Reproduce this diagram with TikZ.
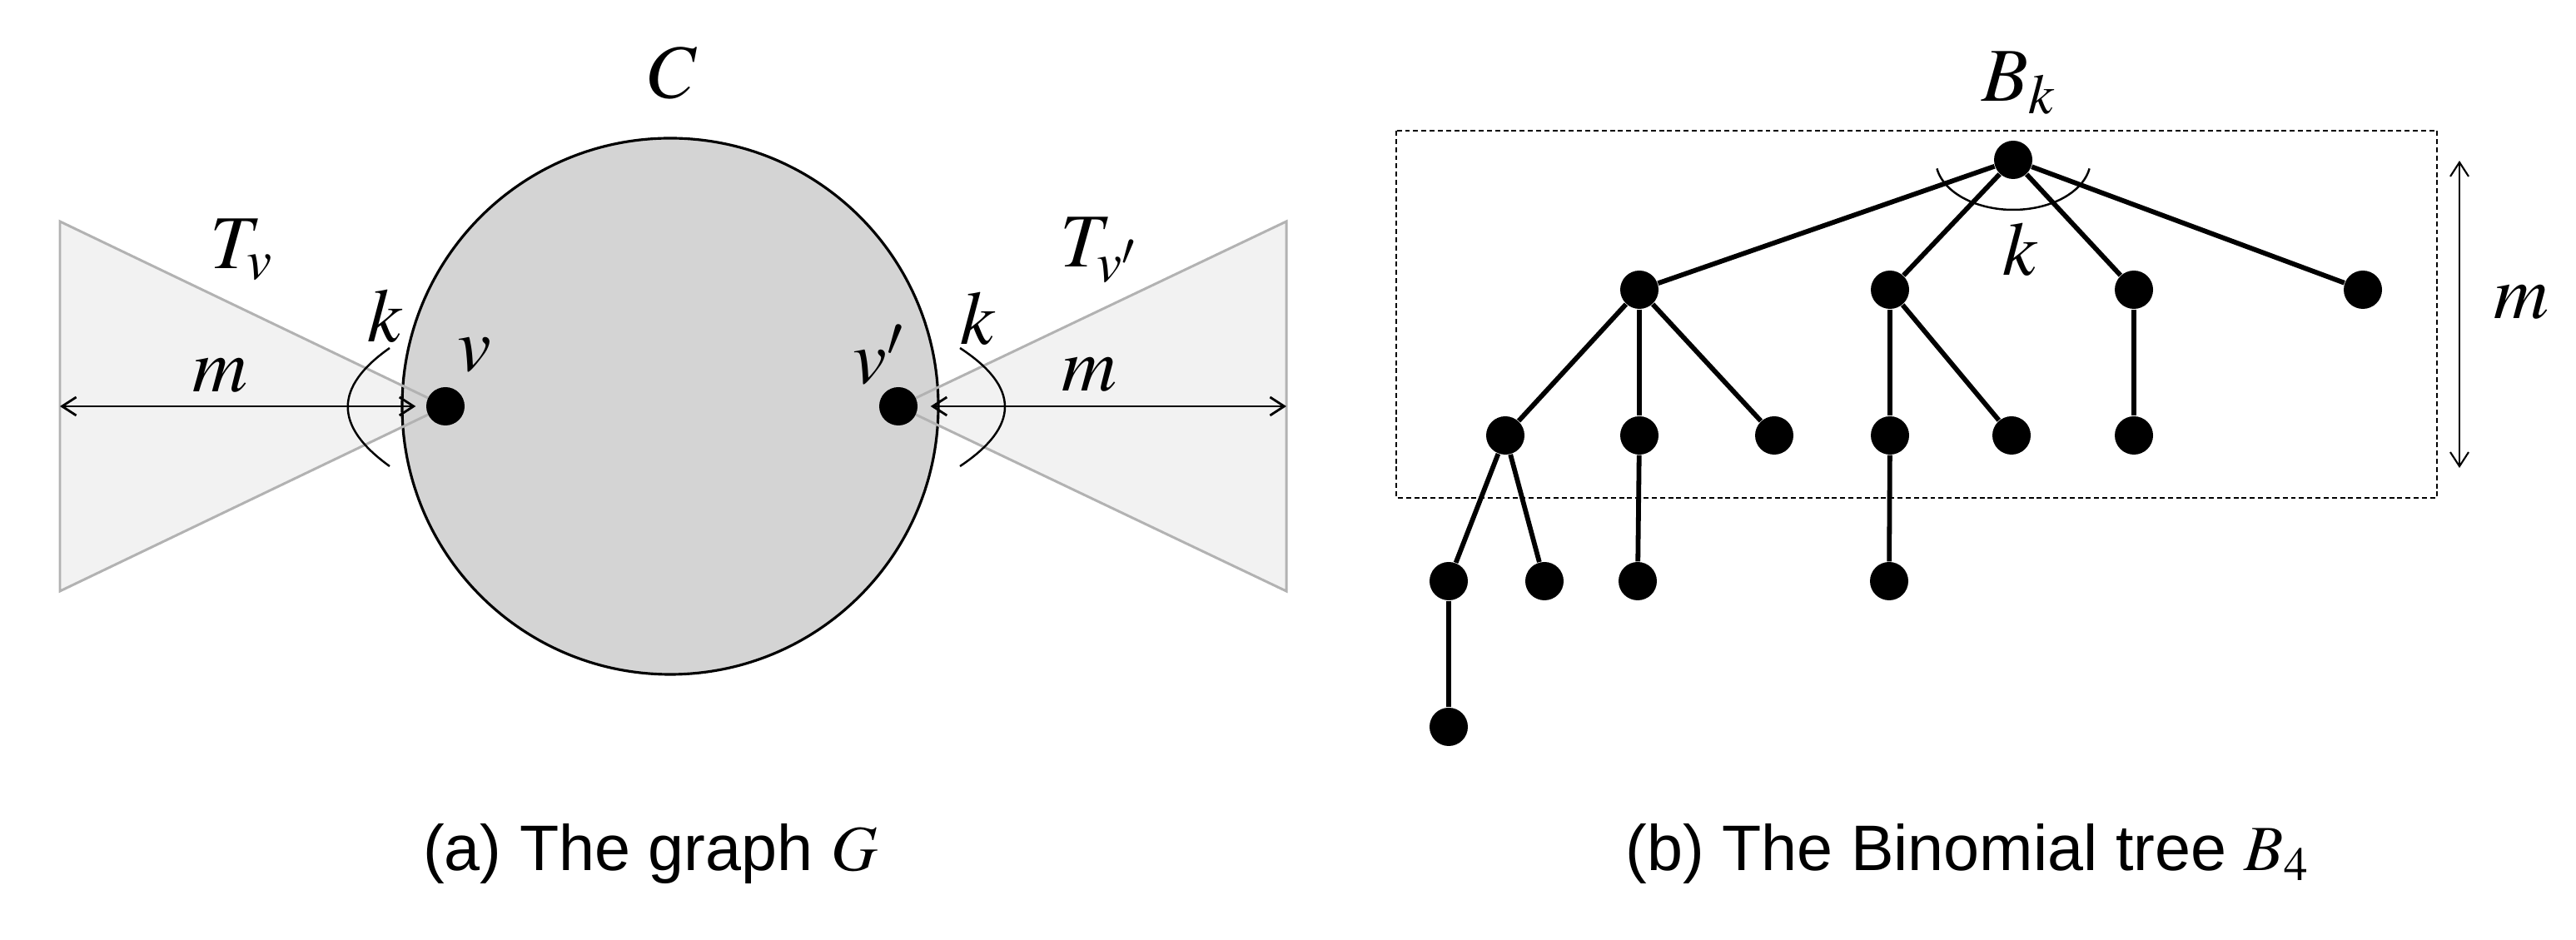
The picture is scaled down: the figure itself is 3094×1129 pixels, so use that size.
\documentclass[tikz,border=0pt]{standalone}
\usepackage{mathptmx}
\usepackage[no-math]{fontspec}
\setmainfont{Liberation Sans}
\usetikzlibrary{arrows.meta,backgrounds}

\definecolor{circlegray}{gray}{0.83}
\definecolor{conefill}{gray}{0.95}
\definecolor{coneline}{gray}{0.70}

\tikzset{
  vertex/.style={circle, fill=black, inner sep=0pt, minimum size=4.6mm},
  treeedge/.style={line width=1.65pt},
  thinarc/.style={line width=0.7pt},
  dimarrow/.style={<->, >={Straight Barb[length=1.7mm,width=2.2mm]}, line width=0.8pt},
  lbl/.style={inner sep=0pt, font=\fontsize{26}{30}\selectfont},
  caption/.style={inner sep=0pt, anchor=base, font=\fontsize{22}{26}\selectfont}
}

\begin{document}
\begin{tikzpicture}[x=0.1mm, y=-0.1mm]
  \useasboundingbox (0,0) rectangle (3094,1129);

  % (a) the graph G
  \coordinate (O) at (805,488);
  \coordinate (TL1) at (72,266);
  \coordinate (TL2) at (72,710);
  \coordinate (TR1) at (1545,266);
  \coordinate (TR2) at (1545,710);
  \coordinate (mL) at (72,488);
  \coordinate (mR) at (1545,488);
  \node[vertex] (v) at (535,488) {};
  \node[vertex] (vp) at (1079,488) {};

  \begin{scope}[on background layer]
    \fill[conefill] (TL1) -- (v.center) -- (TL2) -- cycle;
    \fill[conefill] (TR1) -- (vp.center) -- (TR2) -- cycle;
    \draw[fill=circlegray, line width=0.9pt] (O) circle[radius=322];
    \draw[coneline, line width=0.85pt] (TL1) -- (v.center) -- (TL2) -- cycle;
    \draw[coneline, line width=0.85pt] (TR1) -- (vp.center) -- (TR2) -- cycle;
  \end{scope}

  \draw[dimarrow, shorten >=1.2mm] (mL) -- (v);
  \draw[dimarrow, shorten <=1.5mm] (vp) -- (mR);
  \draw[thinarc] (468,418) .. controls (401,465) and (401,512) .. (468,560);
  \draw[thinarc] (1153,418) .. controls (1225,465) and (1225,512) .. (1153,560);

  \node[lbl] (Clbl) at (808,88) {$C$};
  \node[lbl] (Tv) at (290,300) {$T_v$};
  \node[lbl] (Tvp) at (1320,300) {$T_{v'}$};
  \node[lbl] (mleft) at (264,451) {$m$};
  \node[lbl] (mright) at (1308,450) {$m$};
  \node[lbl] (kleft) at (463,380) {$k$};
  \node[lbl] (kright) at (1175,383) {$k$};
  \node[lbl] (vlbl) at (570,426) {$v$};
  \node[lbl] (vplbl) at (1055,426) {$v'$};

  % (b) the binomial tree
  \draw[line width=0.6pt, dash pattern=on 1.7pt off 1.1pt] (1677,157) rectangle (2927,598);

  \node[vertex] (root) at (2418,192) {};
  \node[vertex] (a1) at (1969,348) {};
  \node[vertex] (a2) at (2270,348) {};
  \node[vertex] (a3) at (2563,348) {};
  \node[vertex] (a4) at (2838,348) {};
  \node[vertex] (b1) at (1808,523) {};
  \node[vertex] (b2) at (1969,523) {};
  \node[vertex] (b3) at (2131,523) {};
  \node[vertex] (b4) at (2270,523) {};
  \node[vertex] (b5) at (2416,523) {};
  \node[vertex] (b6) at (2563,523) {};
  \node[vertex] (c1) at (1740,698) {};
  \node[vertex] (c2) at (1855,698) {};
  \node[vertex] (c3) at (1967,698) {};
  \node[vertex] (c4) at (2269,698) {};
  \node[vertex] (d1) at (1740,873) {};

  \foreach \p/\c in {root/a1, root/a2, root/a3, root/a4, a1/b1, a1/b2, a1/b3,
                     a2/b4, a2/b5, a3/b6, b1/c1, b1/c2, b2/c3, b4/c4, c1/d1}
    \draw[treeedge] (\p) -- (\c);

  \draw[thinarc] (root.center) ++(170:93 and 60) arc[start angle=170, end angle=10, x radius=93, y radius=60];

  \coordinate (mtop) at (2954,193);
  \coordinate (mbot) at (2954,562);
  \draw[dimarrow, line width=0.6pt] (mtop) -- (mbot);

  \node[lbl] (Bk) at (2425,100) {$B_k$};
  \node[lbl] (kroot) at (2427,300) {$k$};
  \node[lbl] (mtree) at (3028,363) {$m$};

  % captions
  \node[caption] (capa) at (781,1046) {(a) The graph $G$};
  \node[caption] (capb) at (2363,1046) {(b) The Binomial tree $B_4$};
\end{tikzpicture}
\end{document}
